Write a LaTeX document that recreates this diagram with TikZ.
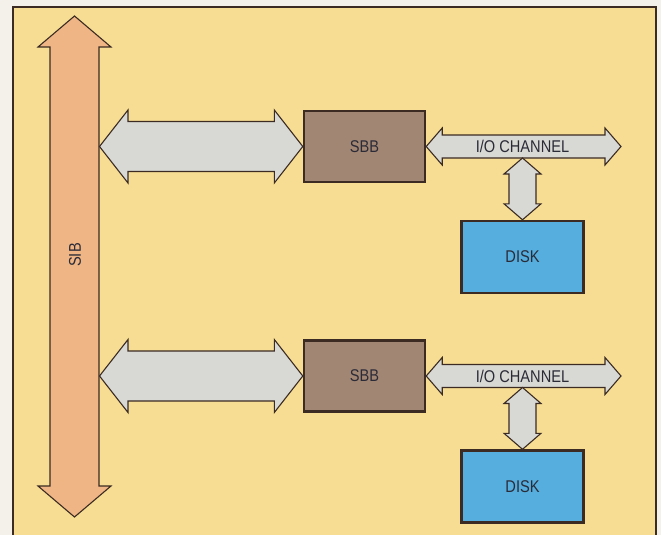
\documentclass[tikz,border=0pt]{standalone}
\usepackage{fontspec}
\newfontfamily\labelfont[FakeStretch=0.86]{Liberation Sans}
\usetikzlibrary{calc}
\definecolor{papel}{HTML}{F4F1EA}
\definecolor{fondo}{HTML}{F7DD93}
\definecolor{contorno}{HTML}{3B2B22}
\definecolor{texto}{HTML}{2B2B38}
\definecolor{naranja}{HTML}{EFB584}
\definecolor{gris}{HTML}{D8D8D4}
\definecolor{marron}{HTML}{A18673}
\definecolor{azul}{HTML}{55AEDD}
\tikzset{
  rotulo/.style={font=\labelfont\fontsize{17}{20}\selectfont, text=texto},
  bloque/.style={rotulo, draw=contorno, line width=2.4pt, minimum width=121pt,
    minimum height=71pt, inner sep=0pt},
  sbbbox/.style={bloque, fill=marron},
  diskbox/.style={bloque, fill=azul, minimum width=122pt, minimum height=72pt},
  bus/.style={draw=contorno, line width=1.1pt, fill=gris},
  sibbus/.style={bus, fill=naranja},
}
% flecha doble horizontal: desde, hasta, semiancho, semicabeza, cabeza
\newcommand{\hbus}[6][bus]{%
  \draw[#1] (#2) -- ($(#2)+(#6,#5)$) -- ($(#2)+(#6,#4)$) -- ($(#3)+(-#6,#4)$)
    -- ($(#3)+(-#6,#5)$) -- (#3) -- ($(#3)+(-#6,-#5)$) -- ($(#3)+(-#6,-#4)$)
    -- ($(#2)+(#6,-#4)$) -- ($(#2)+(#6,-#5)$) -- cycle;}
% flecha doble vertical
\newcommand{\vbus}[6][bus]{%
  \draw[#1] (#2) -- ($(#2)+(#5,#6)$) -- ($(#2)+(#4,#6)$) -- ($(#3)+(#4,-#6)$)
    -- ($(#3)+(#5,-#6)$) -- (#3) -- ($(#3)+(-#5,-#6)$) -- ($(#3)+(-#4,-#6)$)
    -- ($(#2)+(-#4,#6)$) -- ($(#2)+(-#5,#6)$) -- cycle;}
\begin{document}
\begin{tikzpicture}[x=1pt, y=-1pt]
    \clip (0,0) rectangle (661,535);
    % Marco
    \fill[papel] (0,0) rectangle (661,535);
    \draw[fill=fondo, draw=contorno, line width=1.6pt] (13,7) rectangle (656,545);
    % Bus SIB
    \coordinate (sibtop) at (74.5,16);
    \coordinate (sibbot) at (74.5,517);
    \vbus[sibbus]{sibtop}{sibbot}{24.5}{36.5}{31}
    \node[rotulo, rotate=90] (sib) at (75,255) {SIB};
    % Dos ramas iguales
    \foreach \i/\y in {1/146.5, 2/376} {
        \node[sbbbox] (sbb\i) at (364.5,\y) {SBB};
        \node[diskbox] (disk\i) at (522.5,\y+110.5) {DISK};
        \coordinate (tap\i) at (99.5,\y);
        \coordinate (ioend\i) at (621,\y);
        \coordinate (drop\i) at (522.5,\y+11.5);
        \hbus{tap\i}{sbb\i.west}{25}{36.5}{28.5}
        \hbus{sbb\i.east}{ioend\i}{11.5}{18.5}{16}
        \node[rotulo] (io\i) at (522.5,\y) {I/O CHANNEL};
        \vbus{drop\i}{disk\i.north}{13.5}{18.5}{16}
    }
\end{tikzpicture}
\end{document}
